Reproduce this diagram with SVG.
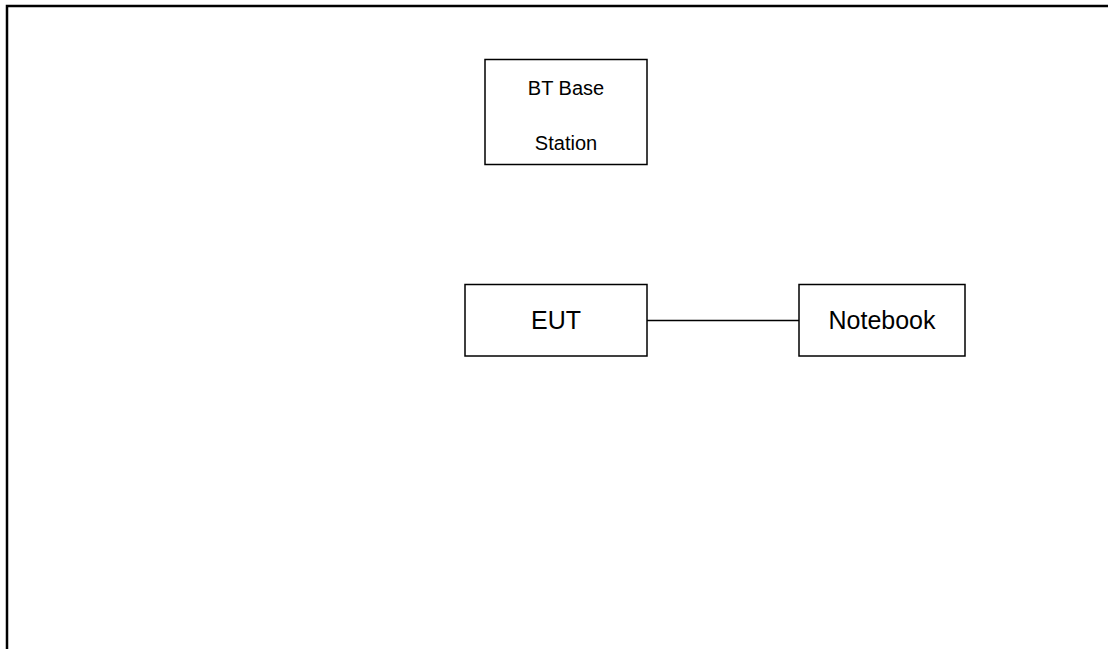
<svg xmlns="http://www.w3.org/2000/svg" width="1108" height="649" viewBox="0 0 1108 649">
<style>
.box{fill:#fff;stroke:#000;stroke-width:1.5}
.t{font-family:"Liberation Sans",Arial,sans-serif;fill:#000;text-anchor:middle}
.conn{stroke:#000;stroke-width:1.5;fill:none}
</style>
<rect width="1108" height="649" fill="#fff"/>
<path d="M7,649 V6 H1108" fill="none" stroke="#000" stroke-width="2.5"/>
<g id="bt">
<rect class="box" x="485" y="59.5" width="162" height="105"/>
<text class="t" x="566" y="95" font-size="20">BT Base</text>
<text class="t" x="566" y="150" font-size="20">Station</text>
</g>
<g id="eut">
<rect class="box" x="465" y="284.5" width="182" height="71.5"/>
<text class="t" x="556" y="329" font-size="25">EUT</text>
</g>
<g id="notebook">
<rect class="box" x="799" y="284.5" width="166" height="71.5"/>
<text class="t" x="882" y="329" font-size="25">Notebook</text>
</g>
<g id="connectors">
<line class="conn" x1="647" y1="320.5" x2="799" y2="320.5"/>
</g>
</svg>
